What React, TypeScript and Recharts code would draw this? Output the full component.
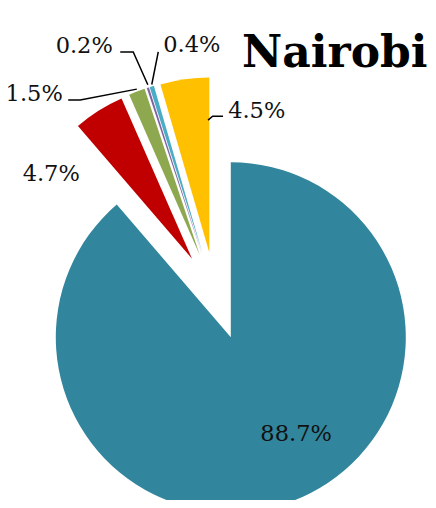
import { PieChart, Pie, Cell, Sector } from "recharts";

// ─── Data ────────────────────────────────────────────────────────────────────
const categories = ["A", "B", "C", "D", "E", "F"];
const shares = [88.7, 4.7, 1.5, 0.2, 0.4, 4.5];
const colors = ["#31859C", "#C00000", "#8EA84F", "#7F63A1", "#4BACC6", "#FFC000"];

const data = categories.map((name, i) => ({ name, value: shares[i] }));

// every slice is pulled out from the centre by the same distance
const EXPLODE = 44;
const RAD = Math.PI / 180;

// label placement relative to the outer midpoint of each (exploded) slice
const labelOffsets: [number, number][] = [
  [4.5, -68],
  [-47.5, 62],
  [-74, 1],
  [-35, -43],
  [11.5, -42],
  [43.5, 31],
];
const labelAnchors = ["middle", "middle", "end", "end", "start", "start"];
const leaders: [number, number][][] = [
  [],
  [],
  [[0, -2.5], [-56.6, 8.3], [-68.6, 8.3]],
  [[0, -3], [-14.6, -35.8], [-27.6, -35.8]],
  [[0, -2], [6.5, -34.6]],
  [[23.4, 41], [28, 37], [38.4, 37]],
];

function polar(cx: number, cy: number, r: number, angle: number) {
  return { x: cx + r * Math.cos(-angle * RAD), y: cy + r * Math.sin(-angle * RAD) };
}

function ExplodedSector(props: any) {
  const { cx, cy, midAngle } = props;
  const c = polar(cx, cy, EXPLODE, midAngle);
  return <Sector {...props} cx={c.x} cy={c.y} stroke="none" />;
}

function SliceLabel(props: any) {
  const { cx, cy, midAngle, outerRadius, index, value } = props;
  const a = polar(cx, cy, outerRadius + EXPLODE, midAngle);
  const [dx, dy] = labelOffsets[index];
  const pts = leaders[index];
  return (
    <g>
      {pts.length > 0 && (
        <polyline
          points={pts.map(([px, py]) => `${a.x + px},${a.y + py}`).join(" ")}
          fill="none"
          stroke="#000"
          strokeWidth={1.5}
        />
      )}
      <text
        x={a.x + dx}
        y={a.y + dy}
        textAnchor={labelAnchors[index] as any}
        dominantBaseline="central"
        fontFamily="'DejaVu Serif', serif"
        fontSize={22.5}
        fill="#111"
      >
        {value.toFixed(1)}%
      </text>
    </g>
  );
}

export default function App() {
  return (
    <div style={{ position: "relative", width: 436, height: 508, margin: -8, overflow: "hidden", background: "#fff" }}>
      <PieChart width={436} height={508} margin={{ top: 0, right: 0, bottom: 0, left: 0 }}>
        <Pie
          data={data}
          dataKey="value"
          nameKey="name"
          cx={215.5}
          cy={296}
          outerRadius={175}
          startAngle={90}
          endAngle={-270}
          stroke="none"
          shape={ExplodedSector}
          label={SliceLabel}
          labelLine={false}
          isAnimationActive={false}
        >
          {data.map((d, i) => (
            <Cell key={d.name} fill={colors[i]} />
          ))}
        </Pie>
      </PieChart>
      <div
        style={{
          position: "absolute",
          left: 242,
          top: 30,
          fontFamily: "'DejaVu Serif', serif",
          fontWeight: "bold",
          fontSize: 44,
          lineHeight: "44px",
          color: "#000",
          whiteSpace: "nowrap",
        }}
      >
        Nairobi
      </div>
    </div>
  );
}
